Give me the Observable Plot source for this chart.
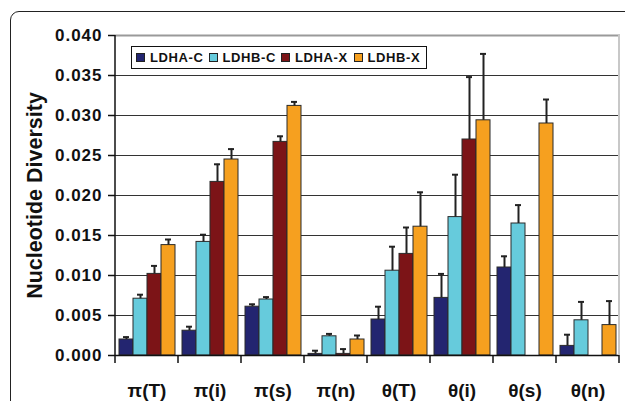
<!DOCTYPE html>
<html>
<head>
<meta charset="utf-8">
<script src="https://cdn.jsdelivr.net/npm/d3@7"></script>
<script src="https://cdn.jsdelivr.net/npm/@observablehq/plot@0.6"></script>
<style>
  body { margin: 0; background: #fff; font-family: "Liberation Sans", Arial, sans-serif; }
  #wrap { position: relative; width: 625px; height: 401px; overflow: hidden; background: #fff; }
  #frame { position: absolute; left: 10px; top: 11px; width: 720px; height: 520px;
           border: 1.6px solid #222; border-radius: 9px; pointer-events: none; }
  #legend { position: absolute; left: 131px; top: 46px; width: 290px; height: 21px;
            border: 1px solid #111; background: #fff; display: flex; align-items: center;
            padding-left: 4px; box-sizing: content-box; }
  .item { display: flex; align-items: center; width: 73.7px; font-weight: bold;
          font-size: 13px; letter-spacing: 0.6px; color: #111; white-space: nowrap; }
  .sw { width: 7px; height: 7px; border: 1px solid #222; margin-right: 5px; flex: none; }
</style>
</head>
<body>
<div id="wrap">
  <div id="chart"></div>
  <div id="legend"></div>
  <div id="frame"></div>
</div>
<script>
// ---- data ----
const groups = ["π(T)", "π(i)", "π(s)", "π(n)", "θ(T)", "θ(i)", "θ(s)", "θ(n)"];
const series = ["LDHA-C", "LDHB-C", "LDHA-X", "LDHB-X"];
const colors = ["#232570", "#66cbdc", "#7c1417", "#f6a01f"];

const ldhaC    = [0.0020, 0.0031, 0.0061, 0.0002, 0.0045, 0.0072, 0.0110, 0.0012];
const ldhaCErr = [0.0003, 0.0005, 0.0003, 0.0004, 0.0016, 0.0030, 0.0014, 0.0014];
const ldhbC    = [0.0071, 0.0142, 0.0070, 0.0024, 0.0106, 0.0173, 0.0165, 0.0044];
const ldhbCErr = [0.0005, 0.0009, 0.0003, 0.0003, 0.0030, 0.0053, 0.0023, 0.0023];
const ldhaX    = [0.0102, 0.0217, 0.0267, 0.0002, 0.0127, 0.0270, 0, 0];
const ldhaXErr = [0.0010, 0.0022, 0.0007, 0.0006, 0.0033, 0.0078, null, null];
const ldhbX    = [0.0138, 0.0245, 0.0312, 0.0020, 0.0161, 0.0294, 0.0290, 0.0038];
const ldhbXErr = [0.0007, 0.0013, 0.0005, 0.0005, 0.0043, 0.0083, 0.0030, 0.0030];

const yTicks = [0, 0.005, 0.010, 0.015, 0.020, 0.025, 0.030, 0.035, 0.040];
const yTitle = "Nucleotide Diversity";

// ---- table ----
const values = [ldhaC, ldhbC, ldhaX, ldhbX];
const errors = [ldhaCErr, ldhbCErr, ldhaXErr, ldhbXErr];
const rows = [];
groups.forEach((g, gi) => series.forEach((s, si) => {
  const v = values[si][gi], e = errors[si][gi];
  rows.push({group: g, series: s, value: v, upper: e == null ? null : v + e});
}));
const errRows = rows.filter(d => d.upper != null);

const font = '"Liberation Sans", Arial, sans-serif';

const chart = Plot.plot({
  width: 625, height: 401,
  marginLeft: 114, marginRight: 5, marginTop: 35, marginBottom: 46,
  style: {fontFamily: font, background: "transparent", color: "#111"},
  fx: {domain: groups, padding: 0, label: null},
  x: {domain: series, paddingInner: 0, paddingOuter: 0.25, axis: null},
  y: {domain: [0, 0.04], label: null, axis: null},
  color: {domain: series, range: colors},
  marks: [
    Plot.ruleY(yTicks.slice(1, -1), {stroke: "#333", strokeWidth: 1}),
    Plot.ruleY([0.04], {stroke: "#9a9a9a", strokeWidth: 2}),
    Plot.barY(rows, {fx: "group", x: "series", y: "value", fill: "series", stroke: "#2b2b2b", strokeWidth: 1}),
    Plot.ruleX(errRows, {fx: "group", x: "series", y1: "value", y2: "upper", stroke: "#222", strokeWidth: 2}),
    Plot.tickY(errRows, {fx: "group", x: "series", y: "upper", stroke: "#222", strokeWidth: 2, insetLeft: 4, insetRight: 4}),
    Plot.ruleY([0], {stroke: "#111", strokeWidth: 1.5}),
    Plot.axisY({ticks: yTicks, tickFormat: d3.format(".3f"), tickSize: 7, tickPadding: 6,
                fontSize: 17, fontWeight: "bold", label: null, stroke: "#111", strokeWidth: 1.5}),
    Plot.axisFx({anchor: "bottom", tickSize: 0, tickPadding: 28, fontSize: 19, fontWeight: "bold", label: null}),
    Plot.text([groups[0]], {fx: d => d, frameAnchor: "left", textAnchor: "middle", text: () => yTitle,
                rotate: -90, dx: -80, fontSize: 21.5, fontWeight: "bold", fill: "#111"})
  ]
});
document.getElementById("chart").appendChild(chart);

// ---- axis decorations from the library's scales ----
const svg = d3.select(chart.tagName.toLowerCase() === "svg" ? chart : chart.querySelector("svg"));
svg.selectAll("[aria-label='y-axis tick label'] text").style("letter-spacing", "1px");
const fxS = chart.scale("fx"), yS = chart.scale("y");
const fxApply = fxS.apply ? (v => fxS.apply(v)) : d3.scaleBand(fxS.domain, fxS.range).padding(0);
const bw = fxS.bandwidth != null ? fxS.bandwidth : (fxS.range[1] - fxS.range[0]) / groups.length;
const yApply = yS.apply ? (v => yS.apply(v)) : d3.scaleLinear(yS.domain, yS.range);
const y0 = yApply(0), yTop = yApply(0.04);
const left = fxApply(groups[0]), right = fxApply(groups[groups.length - 1]) + bw;
const deco = svg.append("g");
// right border
deco.append("line").attr("x1", right).attr("x2", right).attr("y1", yTop - 1).attr("y2", y0)
  .attr("stroke", "#c8c8c8").attr("stroke-width", 2);
// left axis line
deco.append("line").attr("x1", left).attr("x2", left).attr("y1", yTop).attr("y2", y0 + 1)
  .attr("stroke", "#111").attr("stroke-width", 1.5);
// group boundary ticks
[...groups.map(g => fxApply(g)), right].forEach(x => {
  deco.append("line").attr("x1", x).attr("x2", x).attr("y1", y0).attr("y2", y0 + 8)
    .attr("stroke", "#111").attr("stroke-width", 1.5);
});

// ---- legend ----
const legend = document.getElementById("legend");
series.forEach((s, i) => {
  const it = document.createElement("div");
  it.className = "item";
  it.innerHTML = `<span class="sw" style="background:${colors[i]}"></span>${s}`;
  legend.appendChild(it);
});
</script>
</body>
</html>
